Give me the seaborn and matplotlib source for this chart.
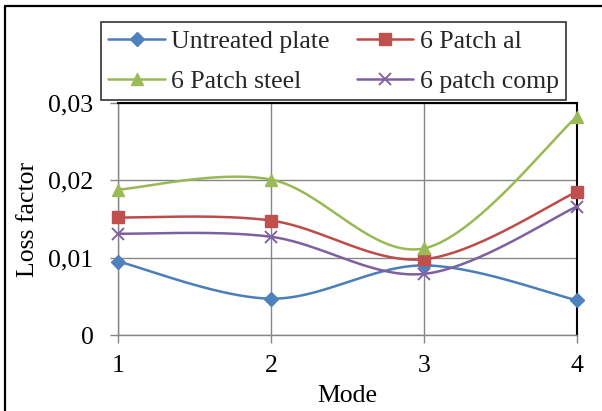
import numpy as np
import pandas as pd
import matplotlib
matplotlib.use("Agg")
import matplotlib.pyplot as plt
from matplotlib.lines import Line2D
from matplotlib.ticker import FuncFormatter
import seaborn as sns

# Loss factor per mode for each plate configuration
modes = [1, 2, 3, 4]
untreated_plate = [0.0095, 0.0047, 0.0090, 0.0045]
patch_al = [0.0152, 0.0148, 0.0098, 0.0185]
patch_steel = [0.0188, 0.0201, 0.0112, 0.0282]
patch_comp = [0.0131, 0.0127, 0.0079, 0.0166]

series_names = ["Untreated plate", "6 Patch al", "6 Patch steel", "6 patch comp"]
series_values = [untreated_plate, patch_al, patch_steel, patch_comp]
line_colors = ["#4A7EBB", "#BE4B48", "#98B954", "#7D60A0"]
marker_colors = ["#4F81BD", "#C0504D", "#9BBB59", "#8064A2"]
markers = ["D", "s", "^", "x"]
marker_sizes = [7.5, 8.5, 9, 8]


def smooth_curve(x, y, n=60):
    """Cubic Bezier smoothing through every point (spreadsheet-style smoothed line)."""
    pts = np.column_stack([x, y]).astype(float)
    ext = np.vstack([pts[0], pts, pts[-1]])
    out = []
    t = np.linspace(0, 1, n)[:, None]
    for i in range(len(pts) - 1):
        p0, p1 = ext[i + 1], ext[i + 2]
        c1 = p0 + (ext[i + 2] - ext[i]) / 6.0
        c2 = p1 - (ext[i + 3] - ext[i + 1]) / 6.0
        seg = ((1 - t) ** 3) * p0 + 3 * ((1 - t) ** 2) * t * c1 \
            + 3 * (1 - t) * t ** 2 * c2 + t ** 3 * p1
        out.append(seg if i == 0 else seg[1:])
    curve = np.vstack(out)
    return curve[:, 0], curve[:, 1]


FS = 18.5
sns.set_theme(style="white")
plt.rcParams["font.family"] = ["Liberation Serif", "DejaVu Serif"]
plt.rcParams["font.size"] = FS

fig = plt.figure(figsize=(6.02, 4.11), dpi=100)
ax = fig.add_axes([0.1965, 0.1849, 0.7615, 0.5645])

handles = []
for name, vals, lc, mc, mk, ms in zip(series_names, series_values, line_colors,
                                      marker_colors, markers, marker_sizes):
    xs, ys = smooth_curve(modes, vals)
    curve = pd.DataFrame({"Mode": xs, "Loss factor": ys})
    sns.lineplot(data=curve, x="Mode", y="Loss factor", ax=ax, color=lc,
                 linewidth=1.8, sort=False, estimator=None, zorder=3)
    pts = pd.DataFrame({"Mode": modes, "Loss factor": vals})
    if mk == "x":
        ax.plot(pts["Mode"], pts["Loss factor"], linestyle="none", marker=mk,
                markersize=ms, markeredgecolor=mc, markeredgewidth=1.4,
                zorder=4, clip_on=False)
    else:
        ax.plot(pts["Mode"], pts["Loss factor"], linestyle="none", marker=mk,
                markersize=ms, markerfacecolor=mc, markeredgecolor=mc,
                zorder=4, clip_on=False)
    handles.append(Line2D([0], [0], color=lc, linewidth=1.8, marker=mk,
                          markersize=ms, markerfacecolor=mc, markeredgecolor=mc,
                          markeredgewidth=1.4 if mk == "x" else 1.0, label=name))

ax.set_xlim(1, 4)
ax.set_ylim(0, 0.03)
ax.set_xticks(modes)
ax.set_yticks([0, 0.01, 0.02, 0.03])
ax.yaxis.set_major_formatter(
    FuncFormatter(lambda v, p: "0" if v == 0 else f"{v:.2f}".replace(".", ",")))

grid_gray = "#868686"
ax.grid(True, color=grid_gray, linewidth=1.0)
ax.set_axisbelow(True)
for side in ["left", "bottom"]:
    ax.spines[side].set_color(grid_gray)
    ax.spines[side].set_linewidth(1.0)
for side in ["top", "right"]:
    ax.spines[side].set_color("black")
    ax.spines[side].set_linewidth(1.5)
ax.tick_params(axis="both", which="both", direction="out", length=5.8, width=1,
               color=grid_gray, labelsize=FS, labelcolor="black",
               bottom=True, left=True)
ax.tick_params(axis="x", pad=8.5)
ax.tick_params(axis="y", pad=12)

ax.set_xlabel("Mode", fontsize=FS, color="black")
ax.set_ylabel("Loss factor", fontsize=FS, color="black")
ax.xaxis.set_label_coords(0.5, -0.215)
ax.yaxis.set_label_coords(-0.172, 0.5)

# legend filled row by row: two entries per row
order = [0, 2, 1, 3]
leg = fig.legend(handles=[handles[i] for i in order], loc="center",
                 bbox_to_anchor=(0.554, 0.851), ncol=2, frameon=True,
                 fancybox=False, fontsize=FS, handlelength=2.2,
                 handletextpad=0.25, columnspacing=1.05, borderpad=0.28,
                 labelspacing=0.68)
leg.get_frame().set_edgecolor("black")
leg.get_frame().set_linewidth(1.2)

# Outer chart frame
fig.add_artist(Line2D([5 / 602, 1.0], [1 - 6 / 411, 1 - 6 / 411],
                      transform=fig.transFigure, color="black", linewidth=1.6))
fig.add_artist(Line2D([5 / 602, 5 / 602], [1 - 6 / 411, 0.0],
                      transform=fig.transFigure, color="black", linewidth=1.6))

fig.savefig("out.png", dpi=100)
